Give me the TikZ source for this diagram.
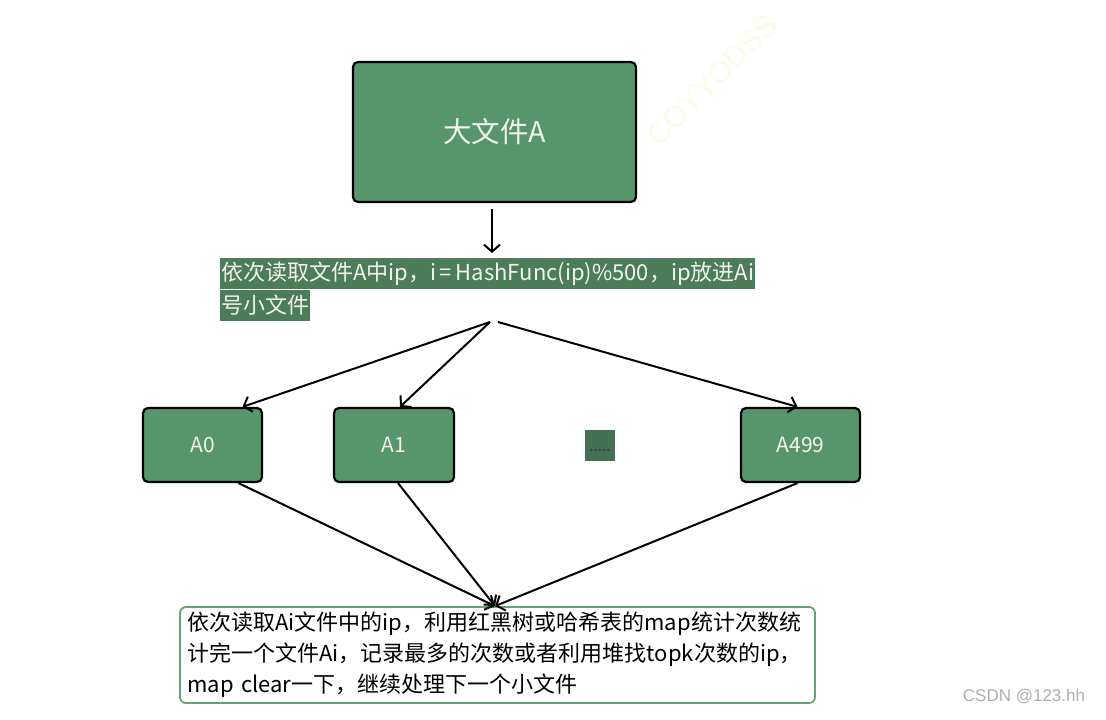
\documentclass[tikz,border=0pt]{standalone}
\usepackage{xcolor}
\usepackage{fontspec}
\usepackage{tikz}
\usetikzlibrary{arrows.meta, positioning, calc}

\setmainfont{Noto Sans CJK SC}
\newfontfamily\wmfont{Liberation Sans}

\definecolor{boxgreen}{HTML}{57966A}
\definecolor{labelgreen}{HTML}{4B7D58}
\definecolor{gapgreen}{HTML}{437050}
\definecolor{edgegreen}{HTML}{63A572}
\definecolor{paletext}{HTML}{F2F4EC}
\definecolor{faintmark}{HTML}{F8FDE6}

\begin{document}
\begin{tikzpicture}[
  x=1pt, y=-1pt,
  filebox/.style={rectangle, draw=black, line width=2.2pt, fill=boxgreen, rounded corners=5pt, text=paletext, align=center},
  hline/.style={rectangle, fill=labelgreen, text=paletext, inner xsep=1pt, inner ysep=0pt, minimum height=31pt, anchor=north west, font=\fontsize{22}{26}\selectfont},
  arrow/.style={-{Straight Barb[length=7pt, width=16pt]}, line width=2pt}
]
  \useasboundingbox (0,0) rectangle (1106,720);

  % watermarks
  \node[rotate=45, text=faintmark, font=\wmfont\fontsize{30}{30}\selectfont] (wmark) at (712,80) {COYYODSS};
  \node[text=black!32, font=\wmfont\fontsize{17}{17}\selectfont] (csdn) at (1024,697) {CSDN @123.hh};

  \node[filebox, minimum width=283pt, minimum height=140pt, font=\fontsize{28.5}{32}\selectfont] (big) at (494.5,132) {大文件A};

  \node[hline] (hline1) at (220,258) {依次读取文件A中ip，i\,=\,HashFunc(ip)\%500，ip放进Ai};
  \node[hline, below=0pt of hline1.south west, anchor=north west] (hline2) {号小文件};

  \node[filebox, minimum width=119pt, minimum height=74pt, font=\fontsize{21}{24}\selectfont] (a0) at (202.5,445) {A0};
  \node[filebox, minimum width=120pt, minimum height=74pt, font=\fontsize{21}{24}\selectfont] (a1) at (394,445) {A1};
  \node[rectangle, fill=gapgreen, minimum width=30pt, minimum height=31pt, inner sep=0pt, text=black!75, font=\bfseries\fontsize{12}{12}\selectfont] (gap) at (600,445.5) {\raisebox{-13pt}{.....}};
  \node[filebox, minimum width=119pt, minimum height=74pt, font=\fontsize{21}{24}\selectfont] (a499) at (800.5,445) {A499};

  \node[rectangle, draw=edgegreen, line width=1.8pt, rounded corners=6pt, minimum width=635pt, minimum height=96pt, text width=620pt, align=left, font=\fontsize{22}{31}\selectfont] (result) at (497.5,655) {依次读取Ai文件中的ip，利用红黑树或哈希表的map统计次数统\\计完一个文件Ai，记录最多的次数或者利用堆找topk次数的ip，\\map clear一下，继续处理下一个小文件};

  \coordinate (fan) at (494,322);

  \draw[arrow, shorten <=6pt, shorten >=5pt] ([xshift=-2.5pt]big.south) -- ([xshift=-2.5pt]big.south |- hline1.north);
  \draw[arrow] ([xshift=-4pt]fan) -- ([xshift=40pt]a0.north);
  \draw[arrow] ([xshift=-4pt]fan) -- ([xshift=6pt]a1.north);
  \draw[arrow] ([xshift=4pt]fan) -- ([xshift=-3pt]a499.north);

  \draw[arrow] ([xshift=36pt]a0.south) -- ([xshift=-2.5pt]result.north);
  \draw[arrow] ([xshift=4pt]a1.south) -- ([xshift=-2.5pt]result.north);
  \draw[arrow] ([xshift=-3pt]a499.south) -- ([xshift=-2.5pt]result.north);
\end{tikzpicture}
\end{document}
